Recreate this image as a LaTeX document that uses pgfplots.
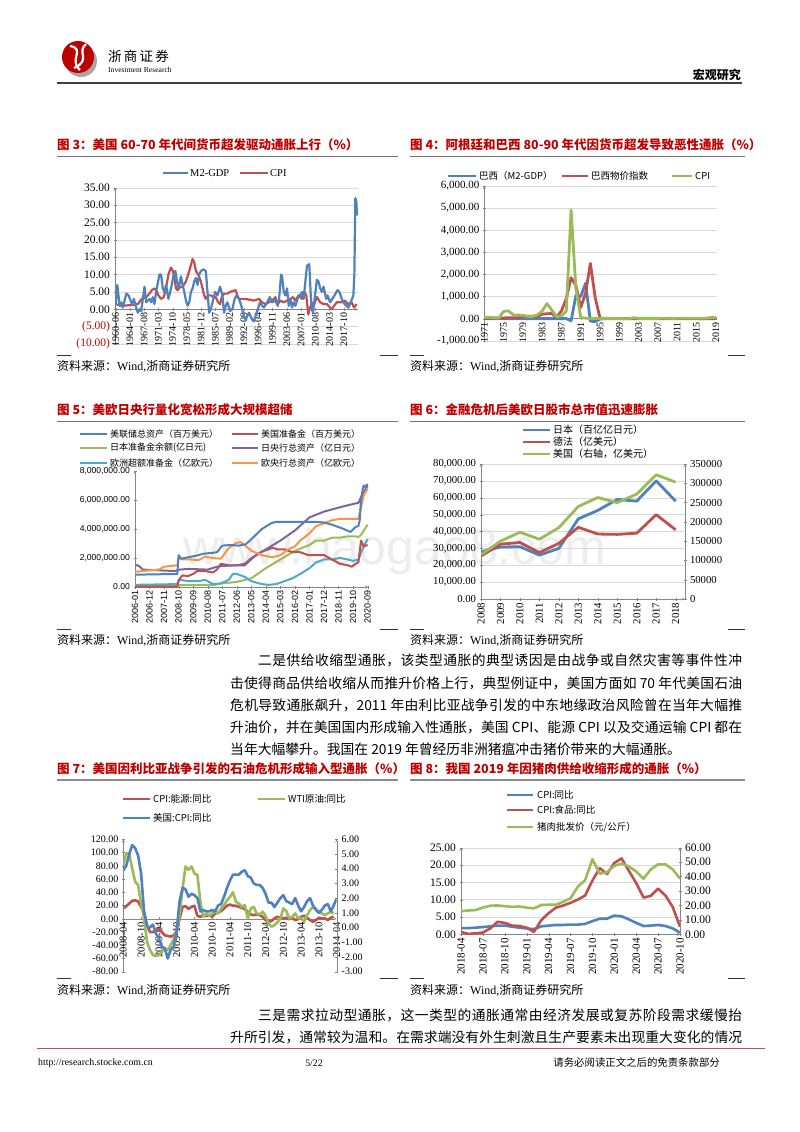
\documentclass[border=0pt]{standalone}
\usepackage{pgfplots}
\pgfplotsset{compat=1.18}
\usepackage{fontspec}
\setmainfont{Liberation Serif}
\newfontfamily\cjk{Noto Sans CJK SC}
\newfontfamily\arial{Liberation Sans}
% CJK characters get class 1 so that stretchable glue can sit between them (for justified lines)
\newcount\cc
\cc="4E00 \loop \XeTeXcharclass\cc=1 \advance\cc 1 \ifnum\cc<"A000 \repeat
\cc="3001 \loop \XeTeXcharclass\cc=1 \advance\cc 1 \ifnum\cc<"3020 \repeat
\cc="FF01 \loop \XeTeXcharclass\cc=1 \advance\cc 1 \ifnum\cc<"FF60 \repeat
\XeTeXinterchartokenstate=1
\XeTeXinterchartoks 1 1 = {\hskip 0pt plus 3pt minus 0.4pt}
\newcommand\fs[1]{\fontsize{#1}{#1}\selectfont}

\definecolor{cblue}{RGB}{79,129,189}
\definecolor{cred}{RGB}{192,80,77}
\definecolor{cgreen}{RGB}{155,187,89}
\definecolor{cpurple}{RGB}{128,100,162}
\definecolor{ccyan}{RGB}{75,172,198}
\definecolor{corange}{RGB}{247,150,70}
\definecolor{tred}{RGB}{192,0,0}
\definecolor{gridc}{RGB}{217,217,217}
\definecolor{axc}{RGB}{134,134,134}

\pgfplotsset{
  pg/.style={scale only axis, anchor=south west,
    axis line style={axc,-}, tick style={axc}, major tick length=3pt,
    tick align=outside, major grid style={gridc},
    scaled y ticks=false, scaled x ticks=false,
    /pgf/number format/assume math mode=true,
    hide obscured x ticks=false, hide obscured y ticks=false,
    no markers, line join=round},
  rot/.style={xticklabel style={rotate=90, anchor=east, inner sep=2pt, font=\fs{#1}}},
}

% legend key and short text helpers
\newcommand\lkey[4]{\draw[#4, line width=2.6pt] (#1,#3) -- (#2,#3);}
\newcommand\ttl[3]{\node[anchor=west, inner sep=0, text=tred] at (#1,#2) {\cjk\bfseries\fs{12.5}#3};}
\newcommand\src[2]{\node[anchor=west, inner sep=0] at (#1,#2) {\fs{12}{\cjk 资料来源：}Wind,{\cjk 浙商证券研究所}};}
\newcommand\body[3]{\node[anchor=west, inner sep=0] at (#1,#2) {\cjk\fs{13.8}#3};}

\begin{document}
\begin{tikzpicture}
\path[use as bounding box, fill=white] (0pt,0pt) rectangle (800pt,-1132pt);

\begin{scope}[x=1pt,y=-1pt]
% watermark
\node[text=black!7] at (395,552) {\arial\fs{50}www.baogao8.com};

% header
\fill[black!35] (81,61) circle (16);
\fill[red!75!black] (78,57) circle (16);
\draw[white, line width=2.2pt] (70,46) .. controls (86,49) and (68,60) .. (80,70);
\draw[white, line width=2.2pt] (86,44) .. controls (76,52) and (92,60) .. (74,68);
\node[anchor=west, inner sep=0] at (108,56) {\cjk\fs{13.5}浙\,商\,证\,券};
\node[anchor=west, inner sep=0] at (108,70) {\fs{7.6}Investment Research};
\node[anchor=east, inner sep=0] at (741,75) {\cjk\bfseries\fs{12}宏观研究};
\draw[black!75, line width=1.2pt] (57,83) -- (742,83);

% titles
\ttl{57}{145}{图 3：美国 60-70 年代间货币超发驱动通胀上行（\%）}
\ttl{410}{145}{图 4：阿根廷和巴西 80-90 年代因货币超发导致恶性通胀（\%）}
\draw[black!55, line width=1pt] (57,156) -- (398,156);
\draw[black!55, line width=1pt] (410,156) -- (745,156);
\ttl{57}{410}{图 5：美欧日央行量化宽松形成大规模超储}
\ttl{410}{410}{图 6：金融危机后美欧日股市总市值迅速膨胀}
\draw[black!55, line width=1pt] (57,421) -- (398,421);
\draw[black!55, line width=1pt] (410,421) -- (745,421);
\ttl{57}{769}{图 7：美国因利比亚战争引发的石油危机形成输入型通胀（\%）}
\ttl{410}{769}{图 8：我国 2019 年因猪肉供给收缩形成的通胀（\%）}
\draw[black!45, line width=2pt] (57,780) -- (398,780);
\draw[black!45, line width=2pt] (410,780) -- (745,780);

% sources and short rules
\foreach \yy/\ys in {355/366, 629/640, 978/990}{
  \draw[black!80, line width=0.8pt] (57,\yy) -- (71,\yy);
  \draw[black!80, line width=0.8pt] (380,\yy) -- (398,\yy);
  \draw[black!80, line width=0.8pt] (410,\yy) -- (424,\yy);
  \draw[black!80, line width=0.8pt] (728,\yy) -- (745,\yy);
  \src{57}{\ys}
  \src{410}{\ys}
}

% legends chart 3
\lkey{163}{188}{173}{cblue}\node[anchor=west,inner sep=1pt] at (189,173) {\fs{10.5}M2-GDP};
\lkey{240}{268}{173}{cred}\node[anchor=west,inner sep=1pt] at (269,173) {\fs{10.5}CPI};
% chart 4
\lkey{448}{476}{176}{cblue}\node[anchor=west,inner sep=1pt] at (478,176) {\cjk\fs{9.5}巴西（M2-GDP）};
\lkey{562}{588}{176}{cred}\node[anchor=west,inner sep=1pt] at (590,176) {\cjk\fs{9.5}巴西物价指数};
\lkey{672}{692}{176}{cgreen}\node[anchor=west,inner sep=1pt] at (694,176) {\cjk\fs{9.5}CPI};
% chart 5
\lkey{80}{107}{434}{cblue}\node[anchor=west,inner sep=1pt] at (109,434) {\cjk\fs{9}美联储总资产（百万美元）};
\lkey{232}{258}{434}{cred}\node[anchor=west,inner sep=1pt] at (260,434) {\cjk\fs{9}美国准备金（百万美元）};
\lkey{80}{107}{448}{cgreen}\node[anchor=west,inner sep=1pt] at (109,448) {\cjk\fs{9}日本准备金余额(亿日元)};
\lkey{232}{258}{448}{cpurple}\node[anchor=west,inner sep=1pt] at (260,448) {\cjk\fs{9}日央行总资产（亿日元）};
\lkey{80}{107}{463}{ccyan}\node[anchor=west,inner sep=1pt] at (109,463) {\cjk\fs{9}欧洲超额准备金（亿欧元）};
\lkey{232}{258}{463}{corange}\node[anchor=west,inner sep=1pt] at (260,463) {\cjk\fs{9}欧央行总资产（亿欧元）};
% chart 6
\lkey{523}{550}{430}{cblue}\node[anchor=west,inner sep=1pt] at (552,430) {\cjk\fs{10}日本（百亿亿日元）};
\lkey{523}{550}{442}{cred}\node[anchor=west,inner sep=1pt] at (552,442) {\cjk\fs{10}德法（亿美元）};
\lkey{523}{550}{454}{cgreen}\node[anchor=west,inner sep=1pt] at (552,454) {\cjk\fs{10}美国（右轴，亿美元）};
% chart 7
\lkey{123}{150}{799}{cred}\node[anchor=west,inner sep=1pt] at (152,799) {\cjk\fs{9.5}CPI:能源:同比};
\lkey{258}{285}{799}{cgreen}\node[anchor=west,inner sep=1pt] at (287,799) {\cjk\fs{9.5}WTI原油:同比};
\lkey{123}{150}{818}{cblue}\node[anchor=west,inner sep=1pt] at (152,818) {\cjk\fs{9.5}美国:CPI:同比};
% chart 8
\lkey{507}{533}{795}{cblue}\node[anchor=west,inner sep=1pt] at (536,795) {\cjk\fs{9.5}CPI:同比};
\lkey{507}{533}{810}{cred}\node[anchor=west,inner sep=1pt] at (536,810) {\cjk\fs{9.5}CPI:食品:同比};
\lkey{507}{533}{827}{cgreen}\node[anchor=west,inner sep=1pt] at (536,827) {\cjk\fs{9.5}猪肉批发价（元/公斤）};

% body text
\body{258}{660}{\makebox[484pt][s]{二是供给收缩型通胀，该类型通胀的典型诱因是由战争或自然灾害等事件性冲}}
\body{230}{683}{\makebox[512pt][s]{击使得商品供给收缩从而推升价格上行，典型例证中，美国方面如 70 年代美国石油}}
\body{230}{705}{\makebox[512pt][s]{危机导致通胀飙升，2011 年由利比亚战争引发的中东地缘政治风险曾在当年大幅推}}
\body{230}{727}{\makebox[512pt][s]{升油价，并在美国国内形成输入性通胀，美国 CPI、能源 CPI 以及交通运输 CPI 都在}}
\body{230}{749}{当年大幅攀升。我国在 2019 年曾经历非洲猪瘟冲击猪价带来的大幅通胀。}
\body{258}{1015}{\makebox[484pt][s]{三是需求拉动型通胀，这一类型的通胀通常由经济发展或复苏阶段需求缓慢抬}}
\body{230}{1037}{\makebox[512pt][s]{升所引发，通常较为温和。在需求端没有外生刺激且生产要素未出现重大变化的情况}}

% footer
\draw[cred, line width=1pt] (37,1048) -- (765,1048);
\node[anchor=west, inner sep=0] at (38,1063) {\fs{9.8}http://research.stocke.com.cn};
\node[inner sep=0] at (314,1063) {\fs{9.8}5/22};
\node[anchor=east, inner sep=0] at (720,1063) {\cjk\fs{10.4}请务必阅读正文之后的免责条款部分};
\end{scope}

% ================= chart 3 =================
\begin{axis}[pg, at={(115pt,-344pt)}, width=243pt, height=156.3pt,
  xmin=-2, xmax=731, ymin=-10, ymax=35,
  axis x line=middle, axis y line=left, ymajorgrids,
  ytick={-10,-5,0,5,10,15,20,25,30,35},
  yticklabels={\textcolor{tred}{(10.00)},\textcolor{tred}{(5.00)},0.00,5.00,10.00,15.00,20.00,25.00,30.00,35.00},
  yticklabel style={font=\fs{11.5}},
  xtick={0,43,...,688}, rot=10,
  xticklabels={1960-06,1964-01,1967-08,1971-03,1974-10,1978-05,1981-12,1985-07,1989-02,1992-09,1996-04,1999-11,2003-06,2007-01,2010-08,2014-03,2017-10}]
\addplot[cred, line width=2.2pt] coordinates {
(0,1.5)(17,1)(47,1.2)(67,1.5)(79,3)(92,3.5)(102,4.5)(109,5.5)(117,6)(122,5.5)(129,4)(137,3)(145,3.5)(152,6)(159,10)(167,12)(173,11)(177,9)(182,6)(187,5.5)(195,6.5)(202,6.5)(212,8)(222,11)(232,14.5)(237,13.5)(242,11)(249,10)(257,8)(262,6)(267,4)(272,3)(279,4)(287,4)(295,3.5)(302,3.5)(309,2)(315,1.5)(320,3.5)(327,4.5)(337,4.5)(345,5)(362,5.5)(367,4)(372,3)(387,3)(402,2.8)(417,2.5)(432,3)(442,2)(452,1.5)(462,2)(472,2.5)(482,3.5)(489,1.5)(497,2.5)(507,2)(517,2.5)(527,3)(535,3.5)(542,2.5)(552,4)(562,3)(569,5)(575,4)(581,-1.5)(585,0)(592,2)(597,1)(607,3.5)(617,2)(627,1.5)(637,1.5)(647,0.5)(652,0)(659,1)(667,2)(682,2)(692,2.5)(699,1.5)(712,2)(719,0.5)(727,1.5)};
\addplot[cblue, line width=2.2pt] coordinates {
(0,1.5)(5,7)(12,1)(17,2)(22,0.5)(32,4.5)(39,4)(45,2.5)(49,1.5)(55,3)(60,1)(67,-1)(72,0)(77,-0.5)(87,6.5)(92,2)(102,3)(107,2)(112,3.5)(117,1.5)(122,5)(132,10)(137,10)(142,6)(147,5)(152,7)(159,3)(167,6)(175,10)(180,11)(185,8)(190,6)(197,9.5)(202,7)(207,5)(212,2.5)(217,1)(222,2)(227,5)(232,6)(237,8)(242,9)(247,7)(252,10)(257,11)(265,11.5)(272,11)(277,5)(282,-1)(287,0)(295,3)(300,5)(307,4)(315,6.5)(322,4)(327,-1)(332,1)(337,2)(345,-0.5)(352,0)(359,3)(365,4)(372,3)(379,1)(387,-2)(392,-3)(397,-2)(402,-1)(412,-3)(417,-3.5)(425,-1)(429,0)(435,2)(442,1)(447,0.5)(457,2)(465,3.5)(472,2)(482,2.5)(489,1)(493,3)(499,10)(502,9.5)(507,5)(512,4)(517,6)(522,1)(527,3)(532,0.5)(537,2)(542,1)(552,4)(557,4)(562,5)(567,3)(577,12.5)(584,13)(589,3)(592,0)(595,-1)(599,2)(607,8.5)(612,8)(617,6)(622,5)(627,6.5)(635,3)(639,4)(647,2)(657,3.5)(669,5.5)(675,5)(682,3)(687,2)(695,1)(702,0.5)(709,2)(717,4)(720,10)(723,32)(726,31)(728,27)};
\end{axis}

% ================= chart 4 =================
\begin{axis}[pg, at={(484.3pt,-340.7pt)}, width=232.4pt, height=154.7pt,
  xmin=1971, xmax=2019.2, ymin=-1000, ymax=6000,
  axis x line=middle, axis y line=left, ymajorgrids,
  ytick={-1000,0,...,6000},
  yticklabels={{-1,000.00},{0.00},{1,000.00},{2,000.00},{3,000.00},{4,000.00},{5,000.00},{6,000.00}},
  yticklabel style={font=\fs{11}},
  xtick={1971,1975,...,2019}, rot=10,
  xticklabels={1971,1975,1979,1983,1987,1991,1995,1999,2003,2007,2011,2015,2019}]
\addplot[cblue, line width=2.8pt] coordinates {
(1971,0)(1975,0)(1980,0)(1985,0)(1988,0)(1989,-100)(1990,1050)(1991,1000)(1992,1600)(1993,-120)(1994,-130)(1995,-20)(1996,0)(2000,0)(2005,0)(2010,0)(2015,0)(2019,0)};
\addplot[cred, line width=2.8pt] coordinates {
(1971,20)(1972,20)(1973,20)(1974,30)(1975,30)(1976,40)(1977,40)(1978,40)(1979,70)(1980,100)(1981,100)(1982,100)(1983,200)(1984,220)(1985,230)(1986,60)(1987,350)(1988,900)(1989,1850)(1990,1500)(1991,500)(1992,1150)(1993,2500)(1994,950)(1995,20)(1996,10)(2000,5)(2005,5)(2010,5)(2014,5)(2015,10)(2016,-10)(2017,5)(2018,5)(2019,5)};
\addplot[cgreen, line width=2.8pt] coordinates {
(1971,50)(1972,60)(1973,40)(1974,25)(1975,330)(1976,350)(1977,170)(1978,160)(1979,150)(1980,100)(1981,100)(1982,170)(1983,340)(1984,680)(1985,380)(1986,80)(1987,130)(1988,340)(1989,4920)(1990,1350)(1991,50)(1992,20)(1993,10)(1994,5)(1995,3)(1999,0)(2001,-5)(2002,40)(2003,10)(2007,10)(2008,20)(2010,10)(2014,20)(2015,15)(2016,20)(2017,20)(2018,50)(2019,55)};
\end{axis}

% ================= chart 5 =================
\begin{axis}[pg, at={(135pt,-587pt)}, width=233.3pt, height=116pt,
  xmin=0, xmax=176.5, ymin=0, ymax=8,
  axis x line=bottom, axis y line=left,
  ytick={0,2,4,6,8},
  yticklabels={{0.00},{2,000,000.00},{4,000,000.00},{6,000,000.00},{8,000,000.00}},
  yticklabel style={font=\arial\fs{8.6}},
  xtick={0,11,...,176},
  xticklabel style={rotate=90, anchor=east, inner sep=2pt, font=\arial\fs{9}},
  xticklabels={2006-01,2006-12,2007-11,2008-10,2009-09,2010-08,2011-07,2012-06,2013-05,2014-04,2015-03,2016-02,2017-01,2017-12,2018-11,2019-10,2020-09}]
\addplot[cgreen, line width=2pt] coordinates {
(0,0.1)(60,0.15)(66,0.25)(77,0.35)(88,0.6)(99,1.3)(110,1.9)(121,2.5)(132,2.9)(137,3.2)(143,3.2)(149,3.4)(155,3.4)(161,3.5)(166,3.5)(169,3.45)(171,3.6)(176,4.3)};
\addplot[ccyan, line width=2pt] coordinates {
(0,0.15)(32,0.2)(33,0.5)(41,0.4)(48,0.4)(53,0.5)(59,0.2)(65,0.25)(71,0.5)(74,0.9)(77,0.9)(83,0.7)(88,0.4)(96,0.2)(101,0.15)(107,0.2)(110,0.3)(119,0.6)(125,0.9)(132,1.3)(137,1.7)(143,1.9)(149,1.9)(155,2.0)(161,1.9)(165,1.8)(169,1.9)(173,2.8)(176,3.3)};
\addplot[cred, line width=2pt] coordinates {
(0,0.02)(32,0.02)(33,0.4)(34,0.6)(36,0.8)(40,0.75)(44,0.9)(47,1.1)(53,1.1)(59,1.0)(62,1.2)(65,1.6)(71,1.5)(77,1.5)(83,1.5)(89,2.0)(95,2.4)(101,2.6)(104,2.7)(108,2.6)(113,2.6)(119,2.4)(125,2.4)(131,2.2)(137,2.2)(143,2.2)(149,1.9)(155,1.6)(161,1.5)(164,1.4)(167,1.6)(169,1.7)(171,3.2)(173,2.8)(176,2.9)};
\addplot[cpurple, line width=2pt] coordinates {
(0,1.55)(3,1.45)(6,1.2)(18,1.15)(30,1.1)(34,1.2)(40,1.25)(55,1.2)(62,1.4)(66,1.45)(77,1.5)(83,1.6)(88,2.0)(99,2.6)(110,3.2)(121,3.9)(132,4.8)(143,5.2)(155,5.5)(166,5.75)(169,5.8)(171,6.2)(176,7.0)};
\addplot[corange, line width=2pt] coordinates {
(0,1.05)(12,1.15)(18,1.2)(22,1.4)(32,1.5)(33,2.0)(36,1.9)(42,1.9)(48,1.85)(53,2.1)(59,2.0)(65,1.95)(71,2.7)(77,3.05)(80,3.1)(84,2.8)(88,2.5)(96,2.2)(104,2.05)(110,2.2)(116,2.6)(121,2.8)(125,3.2)(132,3.7)(137,4.2)(143,4.4)(149,4.6)(155,4.7)(161,4.7)(167,4.7)(169,4.7)(171,5.5)(173,6.3)(176,6.8)};
\addplot[cblue, line width=2pt] coordinates {
(0,0.85)(32,0.9)(33,2.2)(35,1.95)(40,2.05)(46,2.15)(52,2.3)(58,2.35)(62,2.4)(66,2.85)(72,2.9)(78,2.85)(84,2.95)(88,3.3)(96,4.0)(103,4.4)(107,4.5)(120,4.5)(135,4.5)(143,4.45)(149,4.3)(158,4.0)(163,3.8)(167,4.15)(169,4.2)(170,4.6)(171,6.0)(172,6.6)(173,7.0)(174,6.9)(176,7.1)};
\end{axis}

% ================= chart 6 =================
\begin{axis}[pg, at={(481pt,-599pt)}, width=204pt, height=135pt,
  xmin=2008, xmax=2018.48, ymin=0, ymax=80000,
  axis x line=bottom, axis y line=left, ymajorgrids,
  ytick={0,10000,...,80000},
  yticklabels={{0.00},{10,000.00},{20,000.00},{30,000.00},{40,000.00},{50,000.00},{60,000.00},{70,000.00},{80,000.00}},
  yticklabel style={font=\fs{10.7}},
  xtick={2008,...,2018}, rot=10.8,
  xticklabels={2008,2009,2010,2011,2012,2013,2014,2015,2016,2017,2018}]
\addplot[cblue, line width=2.8pt] coordinates {
(2008,28000)(2009,30800)(2010,31000)(2011,26000)(2012,30000)(2013,47500)(2014,52500)(2015,59000)(2016,58000)(2017,70000)(2018,58000)};
\addplot[cred, line width=2.8pt] coordinates {
(2008,25500)(2009,32500)(2010,33500)(2011,27500)(2012,33000)(2013,42500)(2014,38500)(2015,38300)(2016,39000)(2017,50000)(2018,41000)};
\end{axis}
\begin{axis}[pg, at={(481pt,-599pt)}, width=204pt, height=135pt,
  xmin=2008, xmax=2018.48, ymin=0, ymax=350000,
  axis x line=none, axis y line=right,
  ytick={0,50000,...,350000},
  yticklabels={0,50000,100000,150000,200000,250000,300000,350000},
  yticklabel style={font=\fs{10.7}}]
\addplot[cgreen, line width=2.8pt] coordinates {
(2008,115000)(2009,150000)(2010,173000)(2011,155000)(2012,185000)(2013,240000)(2014,263000)(2015,250000)(2016,272000)(2017,322000)(2018,303000)};
\end{axis}

% ================= chart 7 =================
\begin{axis}[pg, at={(123.3pt,-971.7pt)}, width=213.4pt, height=132.4pt,
  xmin=0, xmax=72, ymin=-80, ymax=120,
  axis x line=middle, axis y line=left,
  ytick={-80,-60,...,120},
  yticklabels={{-80.00},{-60.00},{-40.00},{-20.00},{0.00},{20.00},{40.00},{60.00},{80.00},{100.00},{120.00}},
  yticklabel style={font=\fs{10}},
  xtick={0,6,...,72}, rot=10.5,
  xticklabels={2008-04,2008-10,2009-04,2009-10,2010-04,2010-10,2011-04,2011-10,2012-04,2012-10,2013-04,2013-10,2014-04}]
\addplot[cred, line width=2.6pt] coordinates {
(0,15.6)(1,19)(2,23)(3,27)(4,28)(5,26)(6,18)(7,10)(8,-10)(9,-20)(10,-20)(11,-19)(12,-15)(13,-20)(14,-25)(15,-26)(16,-27)(17,-25)(18,-20)(19,0)(20,18)(21,19)(22,15)(23,18)(24,19.6)(25,4.5)(26,3)(27,5.5)(28,4)(29,5.5)(30,3)(31,8)(32,9)(33,11.6)(34,15.6)(35,19.6)(36,21.6)(37,19.6)(38,19.6)(39,18)(40,16.6)(41,14.6)(42,10.6)(43,6.5)(44,5.5)(45,6.5)(46,5.5)(47,3)(48,-2)(49,-4.5)(50,-3.5)(51,0.5)(52,3)(53,1.5)(54,0.5)(55,1.5)(56,-0.5)(57,1.5)(58,-2)(59,-0.5)(60,3)(61,4.5)(62,1.5)(63,-2)(64,-4.5)(65,-2)(66,1.5)(67,0.5)(68,0.5)(69,-2)(70,1.5)(71,3)};
\addplot[cgreen, line width=2.6pt] coordinates {
(0,81)(1,99)(2,98)(3,76)(4,56)(5,51)(6,23)(7,0.5)(8,-35)(9,-47)(10,-55)(11,-56)(12,-55)(13,-50)(14,-45)(15,-47)(16,-40)(17,-30)(18,-20)(19,5.5)(20,46)(21,79)(22,74)(23,79)(24,68.5)(25,66)(26,25.7)(27,3)(28,8)(29,4.5)(30,8)(31,10.6)(32,8)(33,15.6)(34,20.7)(35,28)(36,33)(37,40)(38,25.7)(39,23)(40,18)(41,20.7)(42,0.5)(43,15.6)(44,18)(45,8)(46,6.5)(47,10.6)(48,4.5)(49,-7)(50,-12)(51,-9.5)(52,-5.5)(53,0.5)(54,15.6)(55,11.6)(56,0.5)(57,3)(58,8)(59,0.5)(60,1.5)(61,-4.5)(62,5.5)(63,13)(64,18)(65,14.6)(66,10.6)(67,8)(68,5.5)(69,8)(70,10.6)(71,8)};
\end{axis}
\begin{axis}[pg, at={(123.3pt,-971.7pt)}, width=213.4pt, height=132.4pt,
  xmin=0, xmax=72, ymin=-3, ymax=6,
  axis x line=none, axis y line=right,
  ytick={-3,...,6},
  yticklabels={{-3.00},{-2.00},{-1.00},{0.00},{1.00},{2.00},{3.00},{4.00},{5.00},{6.00}},
  yticklabel style={font=\fs{10}}]
\addplot[cblue, line width=2.6pt] coordinates {
(0,3.9)(1,4.2)(2,5.0)(3,5.6)(4,5.4)(5,4.9)(6,3.7)(7,1.1)(8,0.1)(9,0.0)(10,0.2)(11,-0.4)(12,-0.7)(13,-1.3)(14,-1.4)(15,-2.1)(16,-1.5)(17,-1.3)(18,-0.2)(19,1.8)(20,2.7)(21,2.6)(22,2.1)(23,2.3)(24,2.2)(25,2.0)(26,1.1)(27,1.2)(28,1.1)(29,1.1)(30,1.2)(31,1.1)(32,1.5)(33,1.6)(34,2.1)(35,2.7)(36,3.2)(37,3.6)(38,3.6)(39,3.6)(40,3.8)(41,3.9)(42,3.5)(43,3.4)(44,3.0)(45,2.9)(46,2.9)(47,2.7)(48,2.3)(49,1.7)(50,1.7)(51,1.4)(52,1.7)(53,2.0)(54,2.2)(55,1.8)(56,1.7)(57,1.6)(58,2.0)(59,1.5)(60,1.1)(61,1.4)(62,1.8)(63,2.0)(64,1.5)(65,1.2)(66,1.0)(67,1.2)(68,1.5)(69,1.6)(70,1.1)(71,1.5)(72,2.0)};
\end{axis}

% ================= chart 8 =================
\begin{axis}[pg, at={(461pt,-934.3pt)}, width=219pt, height=86.6pt,
  xmin=0, xmax=30, ymin=0, ymax=25,
  axis x line=bottom, axis y line=left, ymajorgrids,
  ytick={0,5,...,25},
  yticklabels={{0.00},{5.00},{10.00},{15.00},{20.00},{25.00}},
  yticklabel style={font=\fs{11.5}},
  xtick={0,3,...,30}, rot=11,
  xticklabels={2018-04,2018-07,2018-10,2019-01,2019-04,2019-07,2019-10,2020-01,2020-04,2020-07,2020-10}]
\addplot[cblue, line width=2.6pt] coordinates {
(0,1.8)(1,1.8)(2,1.9)(3,2.1)(4,2.3)(5,2.5)(6,2.5)(7,2.2)(8,1.9)(9,1.7)(10,1.5)(11,2.3)(12,2.5)(13,2.7)(14,2.7)(15,2.8)(16,2.8)(17,3.0)(18,3.8)(19,4.5)(20,4.5)(21,5.4)(22,5.2)(23,4.3)(24,3.3)(25,2.4)(26,2.5)(27,2.7)(28,2.4)(29,1.7)(30,0.5)};
\addplot[cred, line width=2.6pt] coordinates {
(0,0.7)(1,0.1)(2,0.3)(3,0.5)(4,1.7)(5,3.6)(6,3.3)(7,2.5)(8,2.4)(9,1.9)(10,0.7)(11,4.1)(12,6.1)(13,7.7)(14,8.3)(15,9.1)(16,10.0)(17,11.2)(18,15.5)(19,19.1)(20,17.4)(21,20.6)(22,21.9)(23,18.3)(24,14.8)(25,10.6)(26,11.1)(27,13.2)(28,11.2)(29,7.9)(30,2.2)};
\end{axis}
\begin{axis}[pg, at={(461pt,-934.3pt)}, width=219pt, height=86.6pt,
  xmin=0, xmax=30, ymin=0, ymax=60,
  axis x line=none, axis y line=right,
  ytick={0,10,...,60},
  yticklabels={{0.00},{10.00},{20.00},{30.00},{40.00},{50.00},{60.00}},
  yticklabel style={font=\fs{11.5}}]
\addplot[cgreen, line width=2.6pt] coordinates {
(0,16)(1,16.5)(2,16.8)(3,18.5)(4,19.8)(5,20)(6,19.5)(7,19)(8,19.3)(9,18.5)(10,18)(11,20.3)(12,20.5)(13,20.5)(14,22.5)(15,25)(16,33)(17,37.5)(18,52)(19,42)(20,43)(21,47.5)(22,49)(23,47)(24,43.5)(25,38.5)(26,45)(27,48.5)(28,48.5)(29,45)(30,38.5)};
\end{axis}
\end{tikzpicture}
\end{document}
